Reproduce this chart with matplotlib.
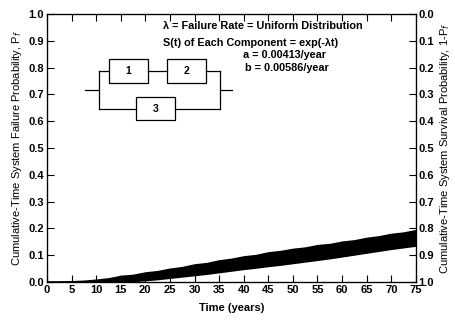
import matplotlib
matplotlib.use("Agg")
import matplotlib.pyplot as plt
from matplotlib.patches import Rectangle

plt.rcParams['font.family'] = ['Liberation Sans', 'DejaVu Sans']

# Envelope of the simulated failure-probability band
years = [0, 2.5, 5, 7.5, 10, 12.5, 15, 17.5, 20, 22.5, 25, 27.5, 30, 32.5, 35, 37.5,
         40, 42.5, 45, 47.5, 50, 52.5, 55, 57.5, 60, 62.5, 65, 67.5, 70, 72.5, 75]
pf_upper = [0, 0, 0.002, 0.004, 0.008, 0.013, 0.022, 0.026, 0.035, 0.040, 0.049, 0.055,
            0.065, 0.070, 0.080, 0.086, 0.095, 0.100, 0.110, 0.115, 0.123, 0.128, 0.137,
            0.141, 0.150, 0.155, 0.164, 0.170, 0.179, 0.184, 0.193]
pf_lower = [0, 0, 0, 0, 0, 0.001, 0.002, 0.004, 0.007, 0.011, 0.016, 0.021, 0.026, 0.031,
            0.037, 0.043, 0.049, 0.054, 0.060, 0.065, 0.071, 0.077, 0.083, 0.089, 0.096,
            0.103, 0.110, 0.117, 0.124, 0.130, 0.136]

xticks = [0, 5, 10, 15, 20, 25, 30, 35, 40, 45, 50, 55, 60, 65, 70, 75]
yticks = [0.0, 0.1, 0.2, 0.3, 0.4, 0.5, 0.6, 0.7, 0.8, 0.9, 1.0]

fig = plt.figure(figsize=(4.56, 3.2), dpi=100)
ax = fig.add_axes([0.103, 0.119, 0.809, 0.837])
ax.fill_between(years, pf_lower, pf_upper, color='black', linewidth=1.2, edgecolor='black')

ax.set_xlim(0, 75)
ax.set_ylim(0, 1.0)
ax.set_xticks(xticks)
ax.set_yticks(yticks)
ax.set_xticklabels([str(v) for v in xticks], fontweight='bold', fontsize=8)
ax.set_yticklabels([f"{v:.1f}" for v in yticks], fontweight='bold', fontsize=8)
ax.tick_params(axis='x', direction='in', top=True, length=5, width=0.8, pad=2)
ax.tick_params(axis='y', direction='in', length=5, width=0.8, pad=2)
for s in ax.spines.values():
    s.set_linewidth(0.9)
ax.set_xlabel("Time (years)", fontweight='bold', fontsize=8, labelpad=6)
ax.set_ylabel("Cumulative-Time System Failure Probability, P$_f$", fontsize=8, labelpad=3)

ax2 = ax.twinx()
ax2.set_ylim(1.0, 0.0)
ax2.set_yticks(yticks)
ax2.set_yticklabels([f"{v:.1f}" for v in yticks], fontweight='bold', fontsize=8)
ax2.tick_params(axis='y', direction='in', length=5, width=0.8, pad=2)
ax2.set_ylabel("Cumulative-Time System Survival Probability, 1-P$_f$", fontsize=8, labelpad=3)

# Annotation text
ax.text(23.5, 0.945, "λ = Failure Rate = Uniform Distribution", fontsize=7.8, fontweight='bold')
ax.text(23.5, 0.882, "S(t) of Each Component = exp(-λt)", fontsize=7.8, fontweight='bold')
ax.text(39.8, 0.835, "a = 0.00413/year", fontsize=7.8, fontweight='bold')
ax.text(40.3, 0.787, "b = 0.00586/year", fontsize=7.8, fontweight='bold')

# Block diagram
lw = 0.9
boxes = [(12.6, 0.743, 7.9, 0.089, "1"), (24.4, 0.743, 7.9, 0.089, "2"),
         (18.1, 0.604, 7.9, 0.086, "3")]
for bx, by, bw, bh, lab in boxes:
    ax.add_patch(Rectangle((bx, by), bw, bh, fill=False, lw=lw, ec='black'))
    ax.text(bx + bw / 2, by + bh / 2, lab, ha='center', va='center', fontsize=7.5, fontweight='bold')
ymid1 = 0.787
ymid3 = 0.647
ax.plot([7.7, 10.6], [0.716, 0.716], color='black', lw=lw)
ax.plot([10.6, 10.6], [ymid3, ymid1], color='black', lw=lw)
ax.plot([10.6, 12.6], [ymid1, ymid1], color='black', lw=lw)
ax.plot([20.5, 24.4], [ymid1, ymid1], color='black', lw=lw)
ax.plot([32.3, 35.2], [ymid1, ymid1], color='black', lw=lw)
ax.plot([10.6, 18.1], [ymid3, ymid3], color='black', lw=lw)
ax.plot([26.0, 35.2], [ymid3, ymid3], color='black', lw=lw)
ax.plot([35.2, 35.2], [ymid3, ymid1], color='black', lw=lw)
ax.plot([35.2, 37.6], [0.716, 0.716], color='black', lw=lw)

fig.savefig("out.png", dpi=100)
